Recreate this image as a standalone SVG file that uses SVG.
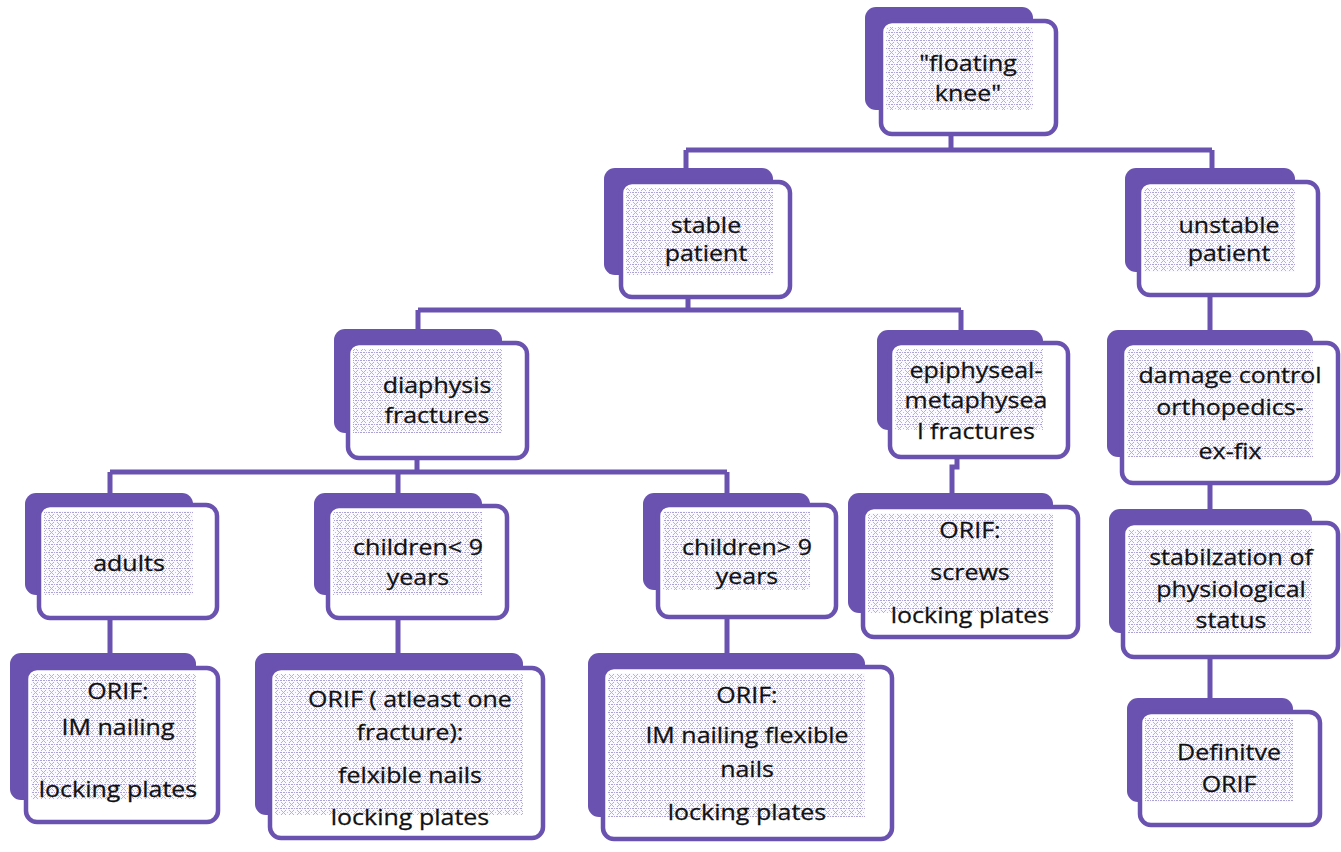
<svg xmlns="http://www.w3.org/2000/svg" width="1341" height="852" viewBox="0 0 1341 852">
<defs>
<pattern id="tex" width="8" height="8" patternUnits="userSpaceOnUse">
<rect x="0" y="0" width="8" height="8" fill="#fbfaff"/>
<rect x="0" y="0" width="2" height="1" fill="#aaa2d6"/>
<rect x="3" y="0" width="2" height="1" fill="#aaa2d6"/>
<rect x="6" y="0" width="1" height="1" fill="#aaa2d6"/>
<rect x="1" y="2" width="1" height="1" fill="#c9a6d3"/>
<rect x="5" y="2" width="1" height="1" fill="#9fb2e0"/>
<rect x="2" y="3" width="1" height="1" fill="#b9b0df"/>
<rect x="4" y="3" width="1" height="1" fill="#b9b0df"/>
<rect x="3" y="4" width="1" height="1" fill="#c9a6d3"/>
<rect x="2" y="5" width="1" height="1" fill="#b9b0df"/>
<rect x="4" y="5" width="1" height="1" fill="#b9b0df"/>
<rect x="1" y="6" width="1" height="1" fill="#9fb2e0"/>
<rect x="5" y="6" width="1" height="1" fill="#c9a6d3"/>
<rect x="7" y="4" width="1" height="1" fill="#c4bde4"/>
</pattern>
<style>
.back{fill:#6a52b0}
.front{fill:#ffffff}
.frame{fill:none;stroke:#6a52b0;stroke-width:4.5}
.tex{fill:url(#tex)}
.t{font-family:"Open Sans","Liberation Sans",sans-serif;font-size:21px;font-weight:500;fill:#111111;stroke:#111111;stroke-width:0.25;text-anchor:middle}
.c{fill:none;stroke:#6a52b0;stroke-width:5}
</style>
</defs>
<rect width="1341" height="852" fill="#ffffff"/>

<g id="connectors">
<path class="c" d="M951 134V150M686 150H1212M686 150V170M1212 150V170"/>
<path class="c" d="M688 297V310M418 310H961M418 310V331M961 310V332"/>
<path class="c" d="M417 458V472M110 472H727M110 472V495M398 472V495M727 472V495"/>
<path class="c" d="M110 618V655M398 618V655M727 617V655"/>
<path class="c" d="M957 457V467H952V495"/>
<path class="c" d="M1210 295V332M1210 483V511M1210 657V700"/>
</g>

<g id="n1">
<rect class="back" x="865" y="7" width="168" height="103" rx="11"/>
<rect class="front" x="881" y="21" width="175" height="113" rx="11"/>
<rect class="tex" x="886" y="27" width="147" height="83"/>
<rect class="frame" x="881" y="21" width="175" height="113" rx="11"/>
<text class="t" transform="translate(968 0) scale(1.19 1)"><tspan x="0" y="71">"floating</tspan><tspan x="0" y="101">knee"</tspan></text>
</g>

<g id="n2">
<rect class="back" x="604" y="168" width="169" height="107" rx="11"/>
<rect class="front" x="621" y="182" width="169" height="115" rx="11"/>
<rect class="tex" x="626" y="188" width="147" height="87"/>
<rect class="frame" x="621" y="182" width="169" height="115" rx="11"/>
<text class="t" transform="translate(706 0) scale(1.19 1)"><tspan x="0" y="233">stable</tspan><tspan x="0" y="261">patient</tspan></text>
</g>

<g id="n3">
<rect class="back" x="1125" y="168" width="170" height="104" rx="11"/>
<rect class="front" x="1139" y="182" width="179" height="113" rx="11"/>
<rect class="tex" x="1144" y="188" width="151" height="84"/>
<rect class="frame" x="1139" y="182" width="179" height="113" rx="11"/>
<text class="t" transform="translate(1229 0) scale(1.19 1)"><tspan x="0" y="233">unstable</tspan><tspan x="0" y="261">patient</tspan></text>
</g>

<g id="n4">
<rect class="back" x="334" y="329" width="168" height="104" rx="11"/>
<rect class="front" x="348" y="343" width="179" height="115" rx="11"/>
<rect class="tex" x="353" y="349" width="149" height="84"/>
<rect class="frame" x="348" y="343" width="179" height="115" rx="11"/>
<text class="t" transform="translate(437 0) scale(1.19 1)"><tspan x="0" y="393">diaphysis</tspan><tspan x="0" y="423">fractures</tspan></text>
</g>

<g id="n5">
<rect class="back" x="877" y="330" width="166" height="100" rx="11"/>
<rect class="front" x="890" y="343" width="178" height="114" rx="11"/>
<rect class="tex" x="895" y="349" width="148" height="81"/>
<rect class="frame" x="890" y="343" width="178" height="114" rx="11"/>
<text class="t" transform="translate(976 0) scale(1.19 1)"><tspan x="0" y="378">epiphyseal-</tspan><tspan x="0" y="408">metaphysea</tspan><tspan x="0" y="439">l fractures</tspan></text>
</g>

<g id="n6">
<rect class="back" x="1107" y="330" width="206" height="127" rx="11"/>
<rect class="front" x="1122" y="343" width="216" height="140" rx="11"/>
<rect class="tex" x="1127" y="349" width="186" height="108"/>
<rect class="frame" x="1122" y="343" width="216" height="140" rx="11"/>
<text class="t" transform="translate(1230 0) scale(1.19 1)"><tspan x="0" y="383">damage control</tspan><tspan x="0" y="415">orthopedics-</tspan><tspan x="0" y="459">ex-fix</tspan></text>
</g>

<g id="n7">
<rect class="back" x="25" y="493" width="168" height="102" rx="11"/>
<rect class="front" x="39" y="505" width="178" height="113" rx="11"/>
<rect class="tex" x="44" y="511" width="149" height="84"/>
<rect class="frame" x="39" y="505" width="178" height="113" rx="11"/>
<text class="t" transform="translate(129 0) scale(1.19 1)"><tspan x="0" y="571">adults</tspan></text>
</g>

<g id="n8">
<rect class="back" x="314" y="493" width="168" height="102" rx="11"/>
<rect class="front" x="328" y="506" width="179" height="112" rx="11"/>
<rect class="tex" x="333" y="512" width="149" height="83"/>
<rect class="frame" x="328" y="506" width="179" height="112" rx="11"/>
<text class="t" transform="translate(418 0) scale(1.19 1)"><tspan x="0" y="555">children&lt; 9</tspan><tspan x="0" y="585">years</tspan></text>
</g>

<g id="n9">
<rect class="back" x="643" y="493" width="167" height="97" rx="11"/>
<rect class="front" x="658" y="505" width="178" height="112" rx="11"/>
<rect class="tex" x="663" y="511" width="147" height="79"/>
<rect class="frame" x="658" y="505" width="178" height="112" rx="11"/>
<text class="t" transform="translate(747 0) scale(1.19 1)"><tspan x="0" y="555">children&gt; 9</tspan><tspan x="0" y="584">years</tspan></text>
</g>

<g id="n10">
<rect class="back" x="848" y="493" width="205" height="120" rx="11"/>
<rect class="front" x="863" y="507" width="215" height="130" rx="11"/>
<rect class="tex" x="868" y="513" width="185" height="100"/>
<rect class="frame" x="863" y="507" width="215" height="130" rx="11"/>
<text class="t" transform="translate(970 0) scale(1.19 1)"><tspan x="0" y="538">ORIF:</tspan><tspan x="0" y="580">screws</tspan><tspan x="0" y="623">locking plates</tspan></text>
</g>

<g id="n11">
<rect class="back" x="1109" y="509" width="203" height="124" rx="11"/>
<rect class="front" x="1123" y="523" width="215" height="134" rx="11"/>
<rect class="tex" x="1128" y="529" width="184" height="104"/>
<rect class="frame" x="1123" y="523" width="215" height="134" rx="11"/>
<text class="t" transform="translate(1231 0) scale(1.19 1)"><tspan x="0" y="565">stabilzation of</tspan><tspan x="0" y="597">physiological</tspan><tspan x="0" y="628">status</tspan></text>
</g>

<g id="n12">
<rect class="back" x="1127" y="698" width="166" height="104" rx="11"/>
<rect class="front" x="1140" y="712" width="180" height="113" rx="11"/>
<rect class="tex" x="1145" y="718" width="148" height="84"/>
<rect class="frame" x="1140" y="712" width="180" height="113" rx="11"/>
<text class="t" transform="translate(1229 0) scale(1.19 1)"><tspan x="0" y="760">Definitve</tspan><tspan x="0" y="792">ORIF</tspan></text>
</g>

<g id="n13">
<rect class="back" x="10" y="653" width="186" height="147" rx="11"/>
<rect class="front" x="26" y="668" width="192" height="154" rx="11"/>
<rect class="tex" x="31" y="674" width="165" height="126"/>
<rect class="frame" x="26" y="668" width="192" height="154" rx="11"/>
<text class="t" transform="translate(118 0) scale(1.19 1)"><tspan x="0" y="699">ORIF:</tspan><tspan x="0" y="735">IM nailing</tspan><tspan x="0" y="797">locking plates</tspan></text>
</g>

<g id="n14">
<rect class="back" x="255" y="653" width="268" height="162" rx="11"/>
<rect class="front" x="270" y="668" width="273" height="170" rx="11"/>
<rect class="tex" x="275" y="674" width="248" height="141"/>
<rect class="frame" x="270" y="668" width="273" height="170" rx="11"/>
<text class="t" transform="translate(410 0) scale(1.19 1)"><tspan x="0" y="707">ORIF ( atleast one</tspan><tspan x="0" y="740">fracture):</tspan><tspan x="0" y="783">felxible nails</tspan><tspan x="0" y="825">locking plates</tspan></text>
</g>

<g id="n15">
<rect class="back" x="588" y="653" width="277" height="164" rx="11"/>
<rect class="front" x="603" y="667" width="289" height="172" rx="11"/>
<rect class="tex" x="608" y="673" width="257" height="144"/>
<rect class="frame" x="603" y="667" width="289" height="172" rx="11"/>
<text class="t" transform="translate(747 0) scale(1.19 1)"><tspan x="0" y="703">ORIF:</tspan><tspan x="0" y="743">IM nailing flexible</tspan><tspan x="0" y="777">nails</tspan><tspan x="0" y="820">locking plates</tspan></text>
</g>
</svg>
